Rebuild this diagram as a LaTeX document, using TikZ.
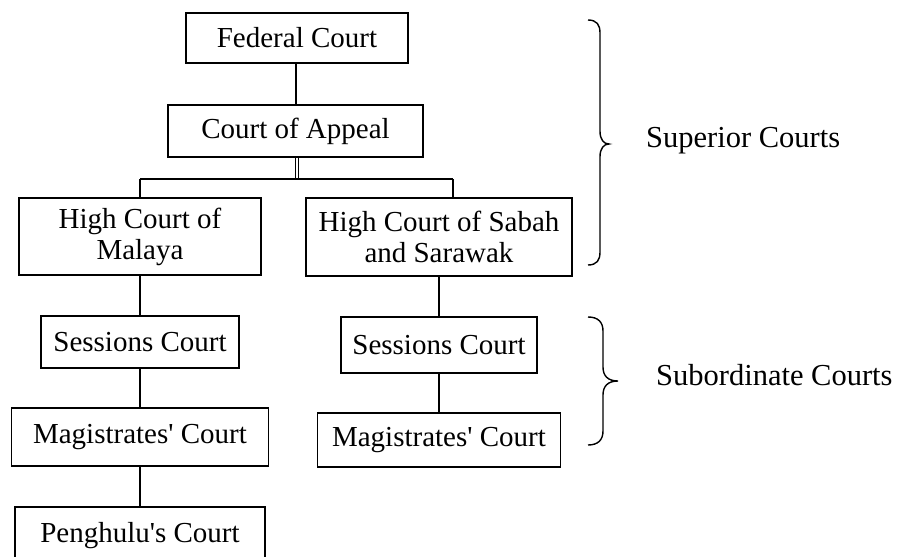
\documentclass[tikz,border=0pt]{standalone}
\usepackage{fontspec}
\setmainfont{Liberation Serif}
\begin{document}
\begin{tikzpicture}[x=1pt,y=-1pt,
  court/.style={draw=black,line width=1.8pt,inner sep=0pt,align=center,
    font=\fontsize{29}{31}\selectfont},
  link/.style={draw=black,line width=1.8pt},
  bracestroke/.style={draw=black,line width=1.4pt},
  tier/.style={anchor=base west,inner sep=0pt,font=\fontsize{30.5}{33}\selectfont}]
\useasboundingbox (0,0) rectangle (914,557);
\clip (0,0) rectangle (914,557);

% superior courts
\node[court,minimum width=222pt,minimum height=50pt] (fed) at (297,38) {Federal Court};
\node[court,minimum width=255pt,minimum height=52pt] (appeal) at (295.5,131) {Court of Appeal};
\node[court,minimum width=242pt,minimum height=77pt] (malaya) at (140,236.5) {High Court of\\Malaya};
\node[court,minimum width=266pt,minimum height=78pt] (sabah) at (439,237) {High Court of Sabah\\and Sarawak};

% subordinate courts, Peninsular Malaysia
\node[court,minimum width=198pt,minimum height=52pt] (sessL) at (140,342) {Sessions Court};
\node[court,minimum width=257pt,minimum height=58pt] (magL) at (140,437) {Magistrates\textquotesingle\ Court};
\node[court,minimum width=250pt,minimum height=58pt] (peng) at (140,536) {Penghulu\textquotesingle s Court};

% subordinate courts, Sabah and Sarawak
\node[court,minimum width=196pt,minimum height=56pt] (sessR) at (439,345) {Sessions Court};
\node[court,minimum width=243pt,minimum height=54pt] (magR) at (439,440) {Magistrates\textquotesingle\ Court};

% branching bar below the Court of Appeal
\coordinate (barL) at (140,179);
\coordinate (barR) at (453,179);
\coordinate (barM) at (297,179);

\draw[link] (fed.south -| 296,0) -- (appeal.north -| 296,0);
\draw[link,line width=1.3pt] (appeal.south -| 295.3,0) -- (barM -| 295.3,0);
\draw[link,line width=1.3pt] (appeal.south -| 298.2,0) -- (barM -| 298.2,0);
\draw[link] (barL) -- (barR);
\draw[link] (barL) -- (malaya.north);
\draw[link] (barR) -- (sabah.north -| barR);

\draw[link] (malaya.south) -- (sessL.north);
\draw[link] (sessL.south) -- (magL.north);
\draw[link] (magL.south) -- (peng.north);

\draw[link] (sabah.south) -- (sessR.north);
\draw[link] (sessR.south) -- (magR.north);

% braces
\draw[bracestroke] (588,20) .. controls (597,20) and (600,25) .. (600,33)
  -- (600,131) .. controls (600,140) and (604,144) .. (609,144)
  .. controls (604,144) and (600,148) .. (600,157)
  -- (600,252) .. controls (600,260) and (597,265) .. (588,265);
\draw[bracestroke] (588,317) .. controls (598,317) and (603,322) .. (603,331)
  -- (603,367) .. controls (603,376) and (608,381) .. (618,381)
  .. controls (608,381) and (603,386) .. (603,395)
  -- (603,431) .. controls (603,440) and (598,445) .. (588,445);

\node[tier] (sup) at (646,147) {Superior Courts};
\node[tier] (sub) at (656,385) {Subordinate Courts};
\end{tikzpicture}
\end{document}
